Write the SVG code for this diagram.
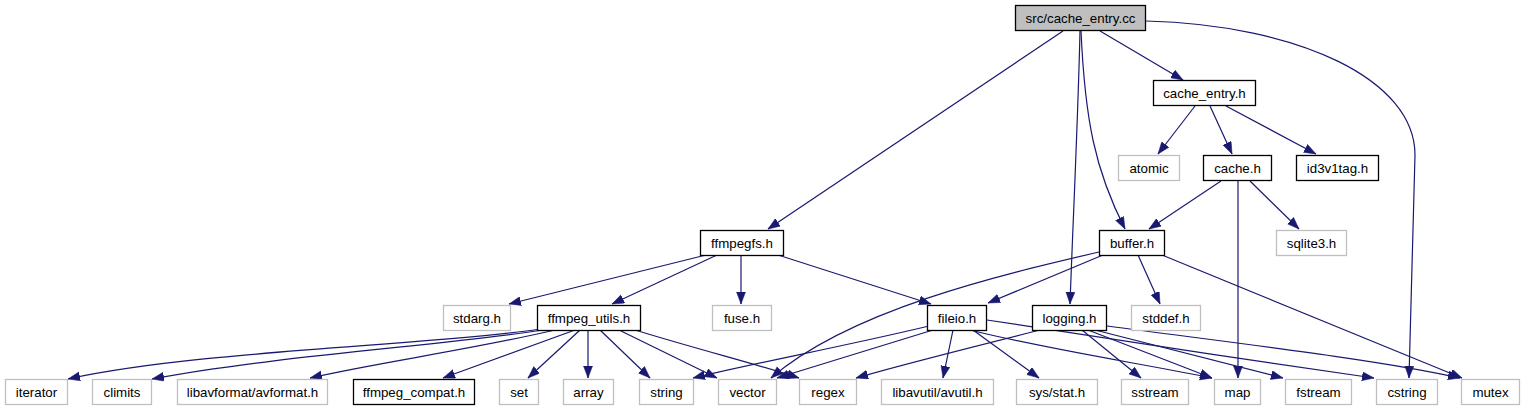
<svg xmlns="http://www.w3.org/2000/svg" width="1526" height="411" viewBox="0 0 1526 411">
<style>
text{font-family:"Liberation Sans",Arial,sans-serif;font-size:13.3px;fill:#000;text-anchor:middle}
.n rect{fill:#fff;stroke:#000;stroke-width:1.3}
.g rect{fill:#fff;stroke:#bfbfbf;stroke-width:1.3}
.r rect{fill:#bfbfbf;stroke:#000;stroke-width:1.3}
#edges path{fill:none;stroke:#191970;stroke-width:1.2;marker-end:url(#ah)}
</style>
<defs>
<marker id="ah" markerWidth="13" markerHeight="10" refX="12" refY="4.5" orient="auto" markerUnits="userSpaceOnUse">
<path d="M0,0 L12,4.5 L0,9 z" fill="#191970" stroke="#191970" stroke-width="0.5"/>
</marker>
</defs>
<rect width="1526" height="411" fill="#fff"/>
<g id="edges">
<path d="M1063,31 L768,229"/>
<path d="M1100,31 L1183,80"/>
<path d="M1081,31 C1085,120 1095,170 1125,229"/>
<path d="M1080,31 C1078,120 1073,220 1070,304"/>
<path d="M1146,21 C1300,25 1415,80 1415,155 L1409,378"/>
<path d="M1195,106 L1158,154"/>
<path d="M1210,106 L1232,154"/>
<path d="M1226,106 L1316,154"/>
<path d="M1221,181 L1149,229"/>
<path d="M1238,181 L1238,378"/>
<path d="M1250,181 L1299,229"/>
<path d="M1103,255 L988,303"/>
<path d="M1099,252 C1000,275 850,310 771,378"/>
<path d="M1138,255 L1160,304"/>
<path d="M1162,255 L1462,378"/>
<path d="M706,255 L509,304"/>
<path d="M717,255 L612,304"/>
<path d="M741,255 L741,304"/>
<path d="M778,255 L931,304"/>
<path d="M541,329 C430,346 200,350 68,379"/>
<path d="M543,330 C450,345 280,355 152,379"/>
<path d="M555,330 C470,350 380,362 310,378"/>
<path d="M575,330 L443,378"/>
<path d="M580,330 L528,378"/>
<path d="M588,330 L588,378"/>
<path d="M600,330 L650,378"/>
<path d="M619,330 L717,378"/>
<path d="M635,330 C700,350 760,365 799,378"/>
<path d="M929,326 C850,345 760,362 693,378"/>
<path d="M933,330 L777,378"/>
<path d="M953,330 L943,378"/>
<path d="M973,330 L1039,378"/>
<path d="M970,330 C1050,350 1150,365 1212,378"/>
<path d="M987,320 C1100,338 1250,360 1374,378"/>
<path d="M1040,330 C980,345 900,365 856,378"/>
<path d="M1082,330 L1141,378"/>
<path d="M1088,330 L1212,378"/>
<path d="M1095,330 L1283,378"/>
<path d="M1107,326 C1250,345 1380,360 1460,378"/>
</g>
<g id="n_root" class="r"><rect x="1015.5" y="5.5" width="130" height="25"/><text x="1080.5" y="22.5">src/cache_entry.cc</text></g>
<g id="n_cache_entry_h" class="n"><rect x="1153.5" y="80.5" width="102" height="25"/><text x="1204.5" y="97.5">cache_entry.h</text></g>
<g id="n_atomic" class="g"><rect x="1118.5" y="155.5" width="61" height="25"/><text x="1149" y="172.5">atomic</text></g>
<g id="n_cache_h" class="n"><rect x="1203.5" y="155.5" width="68" height="25"/><text x="1237.5" y="172.5">cache.h</text></g>
<g id="n_id3v1tag_h" class="n"><rect x="1296.5" y="155.5" width="82" height="25"/><text x="1337.5" y="172.5">id3v1tag.h</text></g>
<g id="n_buffer_h" class="n"><rect x="1099.5" y="230.5" width="65" height="25"/><text x="1132" y="247.5">buffer.h</text></g>
<g id="n_sqlite3_h" class="g"><rect x="1276.5" y="230.5" width="70" height="25"/><text x="1311.5" y="247.5">sqlite3.h</text></g>
<g id="n_ffmpegfs_h" class="n"><rect x="700.5" y="230.5" width="83" height="25"/><text x="742" y="247.5">ffmpegfs.h</text></g>
<g id="n_stdarg_h" class="g"><rect x="443.5" y="305.5" width="67" height="25"/><text x="477" y="322.5">stdarg.h</text></g>
<g id="n_ffmpeg_utils_h" class="n"><rect x="537.5" y="305.5" width="103" height="25"/><text x="589" y="322.5">ffmpeg_utils.h</text></g>
<g id="n_fuse_h" class="g"><rect x="712.5" y="305.5" width="59" height="25"/><text x="742" y="322.5">fuse.h</text></g>
<g id="n_fileio_h" class="n"><rect x="927.5" y="305.5" width="59" height="25"/><text x="957" y="322.5">fileio.h</text></g>
<g id="n_logging_h" class="n"><rect x="1032.5" y="305.5" width="74" height="25"/><text x="1069.5" y="322.5">logging.h</text></g>
<g id="n_stddef_h" class="g"><rect x="1131.5" y="305.5" width="69" height="25"/><text x="1166" y="322.5">stddef.h</text></g>
<g id="n_iterator" class="g"><rect x="5.5" y="379.5" width="62" height="25"/><text x="36.5" y="396.5">iterator</text></g>
<g id="n_climits" class="g"><rect x="92.5" y="379.5" width="59" height="25"/><text x="122" y="396.5">climits</text></g>
<g id="n_avformat" class="g"><rect x="177.5" y="379.5" width="150" height="25"/><text x="252.5" y="396.5">libavformat/avformat.h</text></g>
<g id="n_ffmpeg_compat_h" class="n"><rect x="353.5" y="379.5" width="121" height="25"/><text x="414" y="396.5">ffmpeg_compat.h</text></g>
<g id="n_set" class="g"><rect x="499.5" y="379.5" width="39" height="25"/><text x="519" y="396.5">set</text></g>
<g id="n_array" class="g"><rect x="563.5" y="379.5" width="50" height="25"/><text x="588.5" y="396.5">array</text></g>
<g id="n_string" class="g"><rect x="639.5" y="379.5" width="54" height="25"/><text x="666.5" y="396.5">string</text></g>
<g id="n_vector" class="g"><rect x="718.5" y="379.5" width="58" height="25"/><text x="747.5" y="396.5">vector</text></g>
<g id="n_regex" class="g"><rect x="799.5" y="379.5" width="57" height="25"/><text x="828" y="396.5">regex</text></g>
<g id="n_avutil" class="g"><rect x="881.5" y="379.5" width="112" height="25"/><text x="937.5" y="396.5">libavutil/avutil.h</text></g>
<g id="n_sys_stat_h" class="g"><rect x="1016.5" y="379.5" width="81" height="25"/><text x="1057" y="396.5">sys/stat.h</text></g>
<g id="n_sstream" class="g"><rect x="1121.5" y="379.5" width="67" height="25"/><text x="1155" y="396.5">sstream</text></g>
<g id="n_map" class="g"><rect x="1214.5" y="379.5" width="46" height="25"/><text x="1237.5" y="396.5">map</text></g>
<g id="n_fstream" class="g"><rect x="1285.5" y="379.5" width="66" height="25"/><text x="1318.5" y="396.5">fstream</text></g>
<g id="n_cstring" class="g"><rect x="1376.5" y="379.5" width="61" height="25"/><text x="1407" y="396.5">cstring</text></g>
<g id="n_mutex" class="g"><rect x="1461.5" y="379.5" width="58" height="25"/><text x="1490.5" y="396.5">mutex</text></g>
</svg>
